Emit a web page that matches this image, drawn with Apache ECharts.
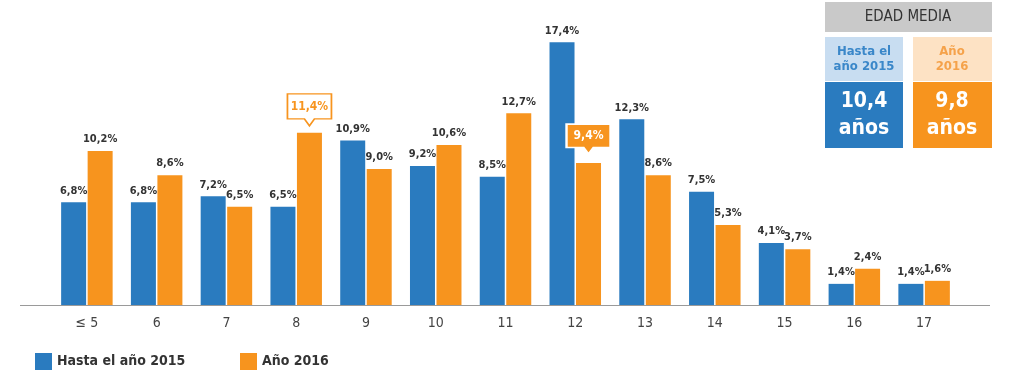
<!DOCTYPE html>
<html>
<head>
<meta charset="utf-8">
<script src="https://cdn.jsdelivr.net/npm/echarts@6/dist/echarts.min.js"></script>
<style>html,body{margin:0;padding:0;background:#fff}#c{width:1024px;height:384px}</style>
</head>
<body>
<div id="c"></div>
<script>
var categories = ['≤ 5', '6', '7', '8', '9', '10', '11', '12', '13', '14', '15', '16', '17'];
var hasta2015 = [6.8, 6.8, 7.2, 6.5, 10.9, 9.2, 8.5, 17.4, 12.3, 7.5, 4.1, 1.4, 1.4];
var ano2016 = [10.2, 8.6, 6.5, 11.4, 9.0, 10.6, 12.7, 9.4, 8.6, 5.3, 3.7, 2.4, 1.6];
var seriesNames = ['Hasta el año 2015', 'Año 2016'];
var boxTitle = 'EDAD MEDIA';
var boxHeads = [['Hasta el', 'año 2015'], ['Año', '2016']];
var boxValues = ['10,4', '9,8'];
var boxUnit = 'años';
var highlight2016 = [3, 7]; // indices with callout labels

var BLUE = '#2a7bbf', ORANGE = '#f7941e';
var FONT = "'Liberation Sans Narrow','DejaVu Sans Condensed','Roboto Condensed',sans-serif";
function fmt(v){ return v.toFixed(1).replace('.', ',') + '%'; }

var chart = echarts.init(document.getElementById('c'));
var orangeData = ano2016.map(function(v, i){
  if (highlight2016.indexOf(i) >= 0) return {value: v, label: {show: false}};
  return v;
});
var calloutPath = 'path://M0,0 H44 V25 H27 L22,32 L17,25 H0 Z';
chart.setOption({
  animation: false,
  textStyle: {fontFamily: FONT},
  grid: {left: 52, right: 65, top: 3, bottom: 79},
  legend: [
    {data: [seriesNames[0]], left: 30, top: 348, itemWidth: 17, itemHeight: 17, icon: 'rect',
     textStyle: {fontFamily: FONT, fontSize: 14, fontWeight: 'bold', color: '#333'}},
    {data: [seriesNames[1]], left: 235, top: 348, itemWidth: 17, itemHeight: 17, icon: 'rect',
     textStyle: {fontFamily: FONT, fontSize: 14, fontWeight: 'bold', color: '#333'}}
  ],
  xAxis: {
    type: 'category', data: categories,
    axisLine: {show: false}, axisTick: {show: false},
    axisLabel: {color: '#444', fontSize: 14, fontFamily: FONT, margin: 11}
  },
  yAxis: {type: 'value', min: 0, max: 20, show: false},
  graphic: [
    {type: 'line', shape: {x1: 20, y1: 305.5, x2: 990, y2: 305.5}, style: {stroke: '#9a9a9a', lineWidth: 1}},
    {type: 'rect', shape: {x: 825, y: 2, width: 167, height: 30}, style: {fill: '#c9c9c9'}},
    {type: 'text', x: 908, y: 17, style: {text: boxTitle, align: 'center', verticalAlign: 'middle', fill: '#333', font: '15px ' + FONT}},
    {type: 'rect', shape: {x: 825, y: 37, width: 78, height: 44}, style: {fill: '#c8ddf1'}},
    {type: 'rect', shape: {x: 825, y: 82, width: 78, height: 66}, style: {fill: BLUE}},
    {type: 'rect', shape: {x: 913, y: 37, width: 79, height: 44}, style: {fill: '#fde2c4'}},
    {type: 'rect', shape: {x: 913, y: 82, width: 79, height: 66}, style: {fill: ORANGE}},
    {type: 'text', x: 864, y: 59, style: {text: boxHeads[0].join('\n'), align: 'center', verticalAlign: 'middle', fill: '#3a87c9', font: 'bold 13px ' + FONT, lineHeight: 15}},
    {type: 'text', x: 952, y: 59, style: {text: boxHeads[1].join('\n'), align: 'center', verticalAlign: 'middle', fill: '#f5a24a', font: 'bold 13px ' + FONT, lineHeight: 15}},
    {type: 'text', x: 864, y: 115, style: {text: boxValues[0] + '\n' + boxUnit, align: 'center', verticalAlign: 'middle', fill: '#fff', font: 'bold 21px ' + FONT, lineHeight: 27}},
    {type: 'text', x: 952, y: 115, style: {text: boxValues[1] + '\n' + boxUnit, align: 'center', verticalAlign: 'middle', fill: '#fff', font: 'bold 21px ' + FONT, lineHeight: 27}}
  ],
  series: [
    {
      name: seriesNames[0], type: 'bar', data: hasta2015, barWidth: 25, barGap: '6%',
      itemStyle: {color: BLUE},
      label: {show: true, position: 'top', distance: 6, formatter: function(p){return fmt(p.value);},
              color: '#333', fontSize: 11, fontWeight: 'bold', fontFamily: FONT}
    },
    {
      name: seriesNames[1], type: 'bar', data: orangeData, barWidth: 25,
      itemStyle: {color: ORANGE},
      label: {show: true, position: 'top', distance: 6, formatter: function(p){return fmt(p.value);},
              color: '#333', fontSize: 11, fontWeight: 'bold', fontFamily: FONT},
      markPoint: {
        data: [
          {coord: [categories[highlight2016[0]], ano2016[highlight2016[0]]], value: ano2016[highlight2016[0]],
           symbol: calloutPath, symbolSize: [44, 32], symbolOffset: [0, -23], symbolKeepAspect: false,
           itemStyle: {color: '#fff', borderColor: ORANGE, borderWidth: 1.5},
           label: {show: true, position: 'inside', offset: [0, -3], formatter: function(p){return fmt(p.value);}, color: ORANGE, fontSize: 12, fontWeight: 'bold', fontFamily: FONT}},
          {coord: [categories[highlight2016[1]], ano2016[highlight2016[1]]], value: ano2016[highlight2016[1]],
           symbol: calloutPath, symbolSize: [44, 30], symbolOffset: [0, -24], symbolKeepAspect: false,
           itemStyle: {color: ORANGE, borderColor: '#fff', borderWidth: 2},
           label: {show: true, position: 'inside', offset: [0, -3], formatter: function(p){return fmt(p.value);}, color: '#fff', fontSize: 12, fontWeight: 'bold', fontFamily: FONT}}
        ]
      }
    }
  ]
});
</script>
</body>
</html>
